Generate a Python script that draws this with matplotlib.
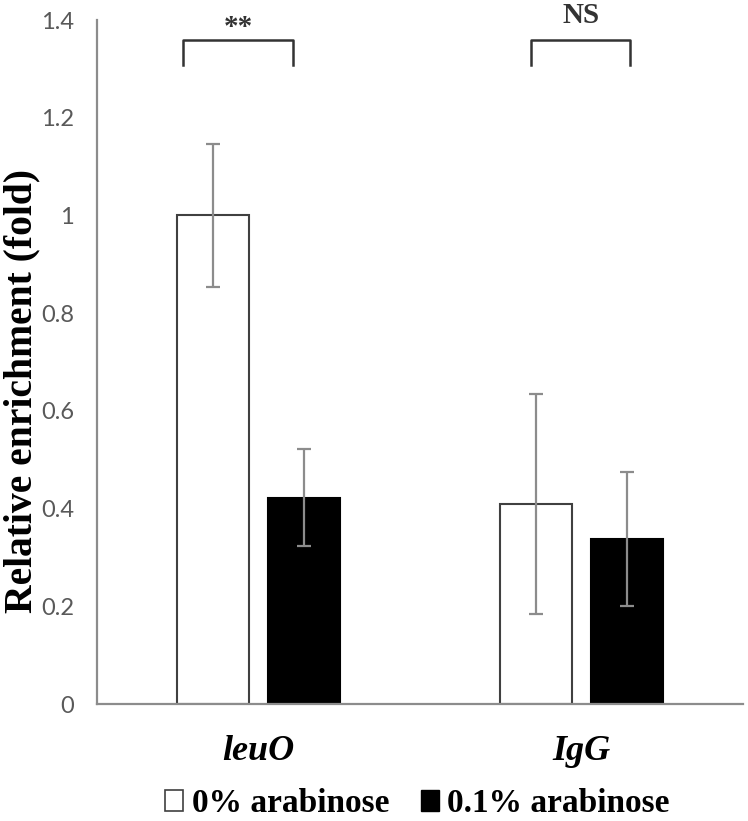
import numpy as np
import matplotlib
matplotlib.use("Agg")
import matplotlib.pyplot as plt
from matplotlib.patches import Patch

categories = ["leuO", "IgG"]
ctrl_vals = [1.0, 0.41]
ctrl_err = [0.147, 0.225]
ara_vals = [0.422, 0.337]
ara_err = [0.099, 0.137]
series_names = ["0% arabinose", "0.1% arabinose"]
sig_labels = ["**", "NS"]

fig = plt.figure(figsize=(7.48, 8.21), dpi=100)
ax = fig.add_axes([0.1297, 0.1425, 0.8636, 0.8331])

x = np.arange(len(categories))
w = 0.223
off = 0.142
err_kw = dict(ecolor="#8c8c8c", elinewidth=1.6, capsize=5, capthick=1.6)
ax.bar(x - off, ctrl_vals, w, yerr=ctrl_err, color="white", edgecolor="#404040",
       linewidth=1.5, error_kw=err_kw, zorder=2)
ax.bar(x + off, ara_vals, w, yerr=ara_err, color="black", edgecolor="black",
       linewidth=1.5, error_kw=err_kw, zorder=2)

ax.set_xlim(-0.5, 1.5)
ax.set_ylim(0, 1.4)
ax.set_yticks(np.arange(0, 1.41, 0.2))
ax.set_yticklabels(["0", "0.2", "0.4", "0.6", "0.8", "1", "1.2", "1.4"])
ax.tick_params(axis="y", length=0, pad=16.5, labelsize=17, labelcolor="#595959")
for lab in ax.get_yticklabels():
    lab.set_family("Lato")
ax.set_xticks(x)
ax.set_xticklabels(categories, fontsize=26, fontweight="bold", fontstyle="italic",
                   family="Liberation Serif")
ax.tick_params(axis="x", length=0, pad=22)

for s in ["top", "right"]:
    ax.spines[s].set_visible(False)
for s in ["left", "bottom"]:
    ax.spines[s].set_color("#8c8c8c")
    ax.spines[s].set_linewidth(1.6)

ax.set_ylabel("Relative enrichment (fold)", fontsize=28.5, fontweight="bold",
              family="Liberation Serif")
ax.yaxis.set_label_coords(-0.088, 0.458)

# significance brackets
brackets = [(-0.234, 0.107), (0.844, 1.150)]
for (x0, x1), lab in zip(brackets, sig_labels):
    ax.plot([x0, x0, x1, x1], [1.308, 1.359, 1.359, 1.308], color="#333333",
            linewidth=1.8, clip_on=False)
    yt = 1.358 if lab == "**" else 1.381
    ax.text((x0 + x1) / 2 + (0.0 if lab == "**" else 0.003), yt, lab,
            ha="center", va="bottom", fontsize=21, fontweight="bold",
            family="Liberation Serif", color="#333333")

handles = [Patch(facecolor="white", edgecolor="#404040", linewidth=1.2),
           Patch(facecolor="black", edgecolor="black")]
fig.legend(handles, series_names, loc="center", bbox_to_anchor=(0.558, 0.021),
           ncol=2, frameon=False, handlelength=0.55, handleheight=0.55,
           handletextpad=0.25, columnspacing=0.95,
           prop={"family": "Liberation Serif", "weight": "bold", "size": 24})

fig.savefig("out.png", dpi=100, facecolor="white")
